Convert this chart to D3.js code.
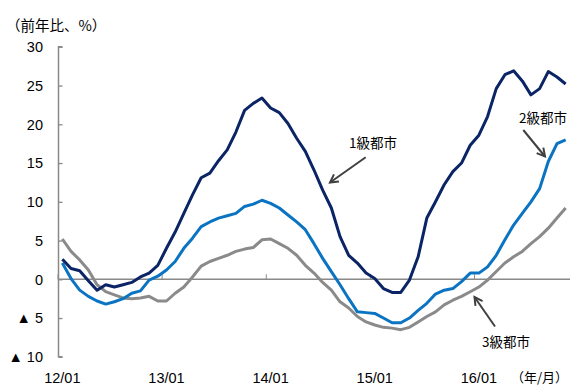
<!DOCTYPE html>
<html><head><meta charset="utf-8">
<script src="https://cdn.jsdelivr.net/npm/d3@7"></script>
<style>
html,body{margin:0;padding:0;background:#fff;}
svg{display:block;}
text{font-family:"Liberation Sans","Noto Sans CJK JP",sans-serif;fill:#000;}
.jp{font-family:"Noto Sans CJK JP",sans-serif;}
</style></head>
<body><svg id="c" width="576" height="385"></svg>
<script>
const startYear = 2012, nMonths = 59;
const yearLabels = ["12/01","13/01","14/01","15/01","16/01"];
const yTicks = [30,25,20,15,10,5,0,-5,-10];
const seriesNames = ["1級都市","2級都市","3級都市"];
const tier1 = [2.6,1.4,1.1,-0.2,-1.4,-0.7,-1.0,-0.7,-0.4,0.3,0.8,1.8,
  4.0,6.1,8.5,10.9,13.1,13.7,15.3,16.7,19.0,21.8,22.7,23.4,
  22.1,21.5,20.1,18.2,16.5,14.1,11.5,9.2,5.5,3.1,2.1,0.8,
  0.1,-1.2,-1.7,-1.7,-0.1,2.9,7.9,10.0,12.2,13.9,15.0,17.3,
  18.6,21.0,24.6,26.4,26.9,25.6,23.8,24.6,26.8,26.1,25.2];
const tier2 = [2.1,0.1,-1.4,-2.2,-2.8,-3.2,-2.9,-2.5,-1.8,-1.5,-0.1,0.4,
  1.2,2.3,4.0,5.3,6.8,7.4,7.9,8.2,8.5,9.4,9.7,10.2,
  9.8,9.2,8.3,7.4,6.4,4.6,2.7,1.0,-0.7,-2.5,-4.2,-4.3,
  -4.4,-5.0,-5.6,-5.6,-5.0,-4.0,-3.1,-1.9,-1.4,-1.2,-0.3,0.8,
  0.8,1.6,3.1,5.1,7.0,8.5,10.0,11.7,15.2,17.5,18.0];
const tier3 = [5.2,3.6,2.5,1.2,-0.7,-1.6,-2.0,-2.4,-2.5,-2.4,-2.2,-2.8,
  -2.8,-1.8,-1.0,0.3,1.7,2.3,2.7,3.1,3.6,3.9,4.1,5.1,
  5.2,4.6,4.0,3.1,1.8,0.8,-0.4,-1.4,-2.9,-3.7,-4.8,-5.5,
  -5.9,-6.2,-6.3,-6.5,-6.2,-5.5,-4.8,-4.2,-3.3,-2.7,-2.2,-1.6,
  -1.0,-0.1,1.0,2.1,2.9,3.6,4.6,5.5,6.6,7.9,9.2];

const months = d3.range(nMonths).map(i => {
  const y = startYear + Math.floor(i/12), m = i%12 + 1;
  return String(y%100).padStart(2,"0") + "/" + String(m).padStart(2,"0");
});

const svg = d3.select("#c");
const x = d3.scaleBand().domain(months).range([58, 570]).padding(0);
const y = d3.scaleLinear().domain([-10,30]).range([356.8, 46.8]);
const cx = d => x(d) + x.bandwidth()/2;
const axisColor = "#898989";

// y axis
const yAxis = d3.axisRight(y).tickValues(yTicks).tickSize(4).tickFormat("");
const ya = svg.append("g").attr("transform","translate(58.5,0)").call(yAxis);
ya.select(".domain").attr("stroke",axisColor).attr("stroke-width",1.5).attr("d",`M4,${y(30)}H0V${y(-10)}H4`);
ya.selectAll(".tick line").attr("stroke",axisColor).attr("stroke-width",1.3);
svg.append("g").selectAll("text").data(yTicks).join("text")
  .attr("x",43).attr("y",d=>y(d)).attr("dy","0.36em").attr("text-anchor","end")
  .attr("font-size",14.5)
  .text(d => d < 0 ? "▲ " + Math.abs(d) : d);

// x axis at zero
const janMonths = months.filter(m => m.endsWith("/01"));
const xAxis = d3.axisTop(x).tickValues(janMonths).tickSize(5).tickFormat("");
const xa = svg.append("g").attr("transform",`translate(0,${y(0)})`).call(xAxis);
xa.select(".domain").attr("stroke",axisColor).attr("stroke-width",1.5).attr("d",`M58,0H570`);
xa.selectAll(".tick line").attr("stroke",axisColor).attr("stroke-width",1).attr("transform",`translate(${-x.bandwidth()/2},0)`);
svg.append("g").selectAll("text").data(yearLabels).join("text")
  .attr("x",d=>cx(d)).attr("y",378).attr("dy","0.36em").attr("text-anchor","middle")
  .attr("font-size",14.5).text(d=>d);
svg.append("text").attr("class","jp").attr("x",568).attr("y",377).attr("dy","0.36em")
  .attr("text-anchor","end").attr("font-size",13).text("（年/月）");
svg.append("text").attr("class","jp").attr("x",6).attr("y",26).attr("dy","0.36em")
  .attr("font-size",14.5).text("（前年比、%）");

// lines
const line = d3.line().x((d,i)=>cx(months[i])).y(d=>y(d));
const seriesData = [tier3, tier2, tier1];
const colors = ["#8a8a8a","#0a74c2","#0b2466"];
svg.append("g").selectAll("path").data(seriesData).join("path")
  .attr("d",line).attr("fill","none").attr("stroke",(d,i)=>colors[i])
  .attr("stroke-width",3).attr("stroke-linejoin","round");

// annotations
const ann = [
  {t:seriesNames[0], tx:349, ty:143, x1:365.7, y1:157.3, x2:330, y2:182.5},
  {t:seriesNames[1], tx:519, ty:118, x1:523.3, y1:130, x2:545, y2:156.5},
  {t:seriesNames[2], tx:482, ty:342, x1:495, y1:326.5, x2:474.5, y2:297}
];
const ag = svg.append("g");
ann.forEach(a => {
  ag.append("text").attr("class","jp").attr("x",a.tx).attr("y",a.ty).attr("dy","0.36em")
    .attr("font-size",13.5).text(a.t);
  ag.append("line").attr("x1",a.x1).attr("y1",a.y1).attr("x2",a.x2).attr("y2",a.y2)
    .attr("stroke","#404040").attr("stroke-width",2);
  const ang = Math.atan2(a.y2-a.y1, a.x2-a.x1), L = 9, w = 0.5;
  const p1 = [a.x2 - L*Math.cos(ang-w), a.y2 - L*Math.sin(ang-w)];
  const p2 = [a.x2 - L*Math.cos(ang+w), a.y2 - L*Math.sin(ang+w)];
  ag.append("path").attr("d",`M${p1}L${a.x2},${a.y2}L${p2}`).attr("fill","none")
    .attr("stroke","#404040").attr("stroke-width",2);
});
</script></body></html>
